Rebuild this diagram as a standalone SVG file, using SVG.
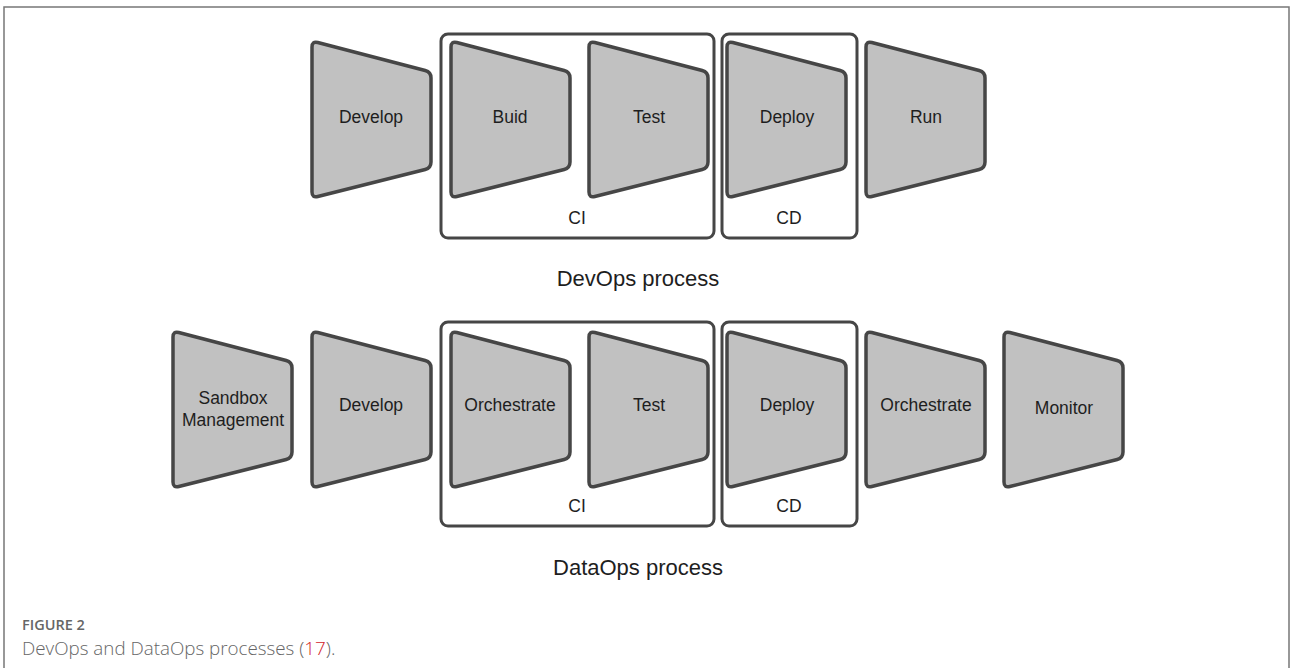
<svg xmlns="http://www.w3.org/2000/svg" width="1290" height="668" viewBox="0 0 1290 668">
<style>
.stage{fill:#c1c1c1;stroke:#464646;stroke-width:3.5;stroke-linejoin:round}
.grp{fill:none;stroke:#464646;stroke-width:3}
.lbl{font-family:"Liberation Sans",Arial,sans-serif;font-size:17.5px;fill:#1e1e1e;text-anchor:middle}
.title{font-family:"Liberation Sans",Arial,sans-serif;font-size:22px;fill:#1e1e1e;text-anchor:middle}
.cap1{font-family:"Open Sans",sans-serif;font-size:14.5px;font-weight:600;fill:#666}
.cap2{font-family:"Open Sans",sans-serif;font-size:18.8px;font-weight:300;fill:#666}
</style>
<defs>
<path id="trap" d="M0,6 Q0,0 5.8,1.5 L113.2,29.5 Q119,31 119,37 L119,121 Q119,127 113.2,128.5 L5.8,155.5 Q0,157 0,151 Z"/>
</defs>
<g id="frame"><path d="M4,668 L4,7 L1289,7 L1289,668" fill="none" stroke="#777" stroke-width="1.5"/></g>
<g id="connectors"></g>

<g id="devops">
<g id="dev-ci"><rect class="grp" x="441" y="34" width="273" height="204" rx="7"/><text class="lbl" x="577" y="224">CI</text></g>
<g id="dev-cd"><rect class="grp" x="722" y="34" width="135" height="204" rx="7"/><text class="lbl" x="789" y="224">CD</text></g>
<g id="dev-develop"><use href="#trap" class="stage" x="312" y="41"/><text class="lbl" x="371" y="123">Develop</text></g>
<g id="dev-build"><use href="#trap" class="stage" x="451" y="41"/><text class="lbl" x="510" y="123">Buid</text></g>
<g id="dev-test"><use href="#trap" class="stage" x="589" y="41"/><text class="lbl" x="649" y="123">Test</text></g>
<g id="dev-deploy"><use href="#trap" class="stage" x="727" y="41"/><text class="lbl" x="787" y="123">Deploy</text></g>
<g id="dev-run"><use href="#trap" class="stage" x="866" y="41"/><text class="lbl" x="926" y="123">Run</text></g>
<text class="title" x="638" y="286">DevOps process</text>
</g>

<g id="dataops">
<g id="data-ci"><rect class="grp" x="441" y="322" width="273" height="204" rx="7"/><text class="lbl" x="577" y="512">CI</text></g>
<g id="data-cd"><rect class="grp" x="722" y="322" width="135" height="204" rx="7"/><text class="lbl" x="789" y="512">CD</text></g>
<g id="data-sandbox"><use href="#trap" class="stage" x="173" y="331"/><text class="lbl" x="233" y="404">Sandbox</text><text class="lbl" x="233" y="426">Management</text></g>
<g id="data-develop"><use href="#trap" class="stage" x="312" y="331"/><text class="lbl" x="371" y="411">Develop</text></g>
<g id="data-orch1"><use href="#trap" class="stage" x="451" y="331"/><text class="lbl" x="510" y="411">Orchestrate</text></g>
<g id="data-test"><use href="#trap" class="stage" x="589" y="331"/><text class="lbl" x="649" y="411">Test</text></g>
<g id="data-deploy"><use href="#trap" class="stage" x="727" y="331"/><text class="lbl" x="787" y="411">Deploy</text></g>
<g id="data-orch2"><use href="#trap" class="stage" x="866" y="331"/><text class="lbl" x="926" y="411">Orchestrate</text></g>
<g id="data-monitor"><use href="#trap" class="stage" x="1004" y="331"/><text class="lbl" x="1064" y="414">Monitor</text></g>
<text class="title" x="638" y="575">DataOps process</text>
</g>

<g id="caption">
<text class="cap1" x="22" y="630">FIGURE 2</text>
<text class="cap2" x="22" y="655">DevOps and DataOps processes (<tspan fill="#d2232a">17</tspan>).</text>
</g>
</svg>
